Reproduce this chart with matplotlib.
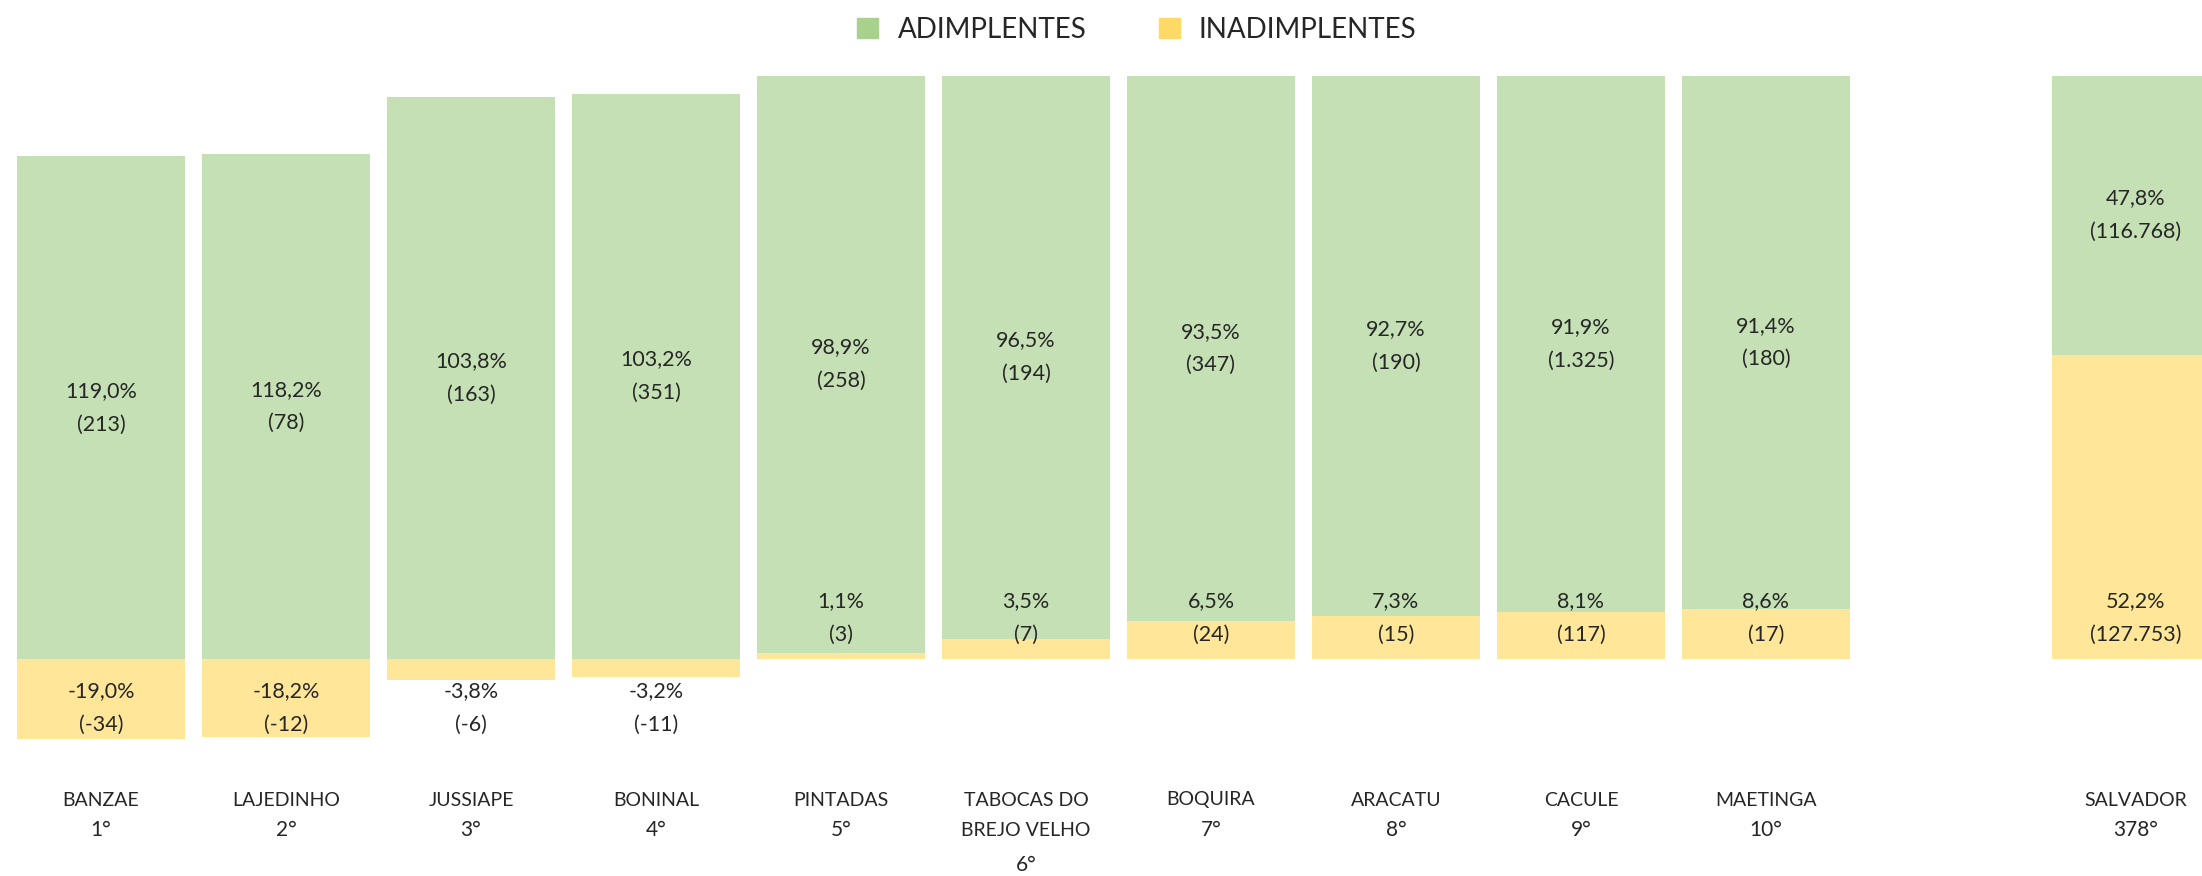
import matplotlib.pyplot as plt
from matplotlib.patches import Patch

plt.rcParams['font.family'] = ['Lato', 'DejaVu Sans']

municipios = ['BANZAE', 'LAJEDINHO', 'JUSSIAPE', 'BONINAL', 'PINTADAS',
              'TABOCAS DO\nBREJO VELHO', 'BOQUIRA', 'ARACATU', 'CACULE',
              'MAETINGA', 'SALVADOR']
ranking = ['1°', '2°', '3°', '4°', '5°', '6°', '7°', '8°', '9°', '10°', '378°']
adim_pct = [119.0, 118.2, 103.8, 103.2, 98.9, 96.5, 93.5, 92.7, 91.9, 91.4, 47.8]
adim_n = [213, 78, 163, 351, 258, 194, 347, 190, 1325, 180, 116768]
inad_pct = [-19.0, -18.2, -3.8, -3.2, 1.1, 3.5, 6.5, 7.3, 8.1, 8.6, 52.2]
inad_n = [-34, -12, -6, -11, 3, 7, 24, 15, 117, 17, 127753]
posicoes = [0, 1, 2, 3, 4, 5, 6, 7, 8, 9, 11]

VERDE = '#c5e0b4'
AMARELO = '#ffe699'
TEXTO = '#262626'


def fmt_pct(v):
    return f'{v:.1f}'.replace('.', ',') + '%'


def fmt_n(v):
    return f'{v:,}'.replace(',', '.')


fig = plt.figure(figsize=(22.02, 8.76), dpi=100)
ax = fig.add_axes([0, 0, 1, 1])

px = 1 / 583  # um pixel em unidades de dados

for x, ga, gn, ia, inn, nome, rk in zip(posicoes, adim_pct, adim_n, inad_pct,
                                        inad_n, municipios, ranking):
    total = abs(ga) + abs(ia)
    g = ga / total
    y = abs(ia) / total
    if ia < 0:
        ax.bar(x, -y, width=0.91, color=AMARELO)
        ax.bar(x, g, width=0.91, color=VERDE)
        y_lab = -49 * px
        g_mid = g / 2
    else:
        ax.bar(x, y, width=0.91, color=AMARELO)
        ax.bar(x, g, bottom=y, width=0.91, color=VERDE)
        y_lab = 41 * px
        g_mid = y + g / 2
    ax.text(x, g_mid, f'{fmt_pct(ga)}\n({fmt_n(gn)})', ha='center',
            va='center', fontsize=15.5, color=TEXTO, linespacing=1.85)
    ax.text(x, y_lab, f'{fmt_pct(ia)}\n({fmt_n(inn)})', ha='center',
            va='center', fontsize=15.5, color=TEXTO, linespacing=1.85)
    linhas = nome.split('\n')
    for i, lin in enumerate(linhas):
        ax.text(x, (-141 - 30 * i) * px, lin, ha='center', va='center',
                fontsize=14, color=TEXTO)
    extra = 5 if len(linhas) > 1 else 0
    ax.text(x, (-141 - 30 * len(linhas) - extra) * px, rk, ha='center',
            va='center', fontsize=15, color=TEXTO)

ax.set_xlim(-0.546, 11.357)
ax.set_ylim(-217 * px, 659 * px)
ax.axis('off')

handles = [Patch(color='#a9d18e', label='ADIMPLENTES'),
           Patch(color='#ffd966', label='INADIMPLENTES')]
fig.legend(handles=handles, loc='center', ncol=2, frameon=False,
           bbox_to_anchor=(1137 / 2202, 1 - 30 / 876), fontsize=20,
           handlelength=0.75, handleheight=0.75, handletextpad=0.7,
           columnspacing=2.6, labelcolor=TEXTO)

fig.savefig('out.png', dpi=100)
